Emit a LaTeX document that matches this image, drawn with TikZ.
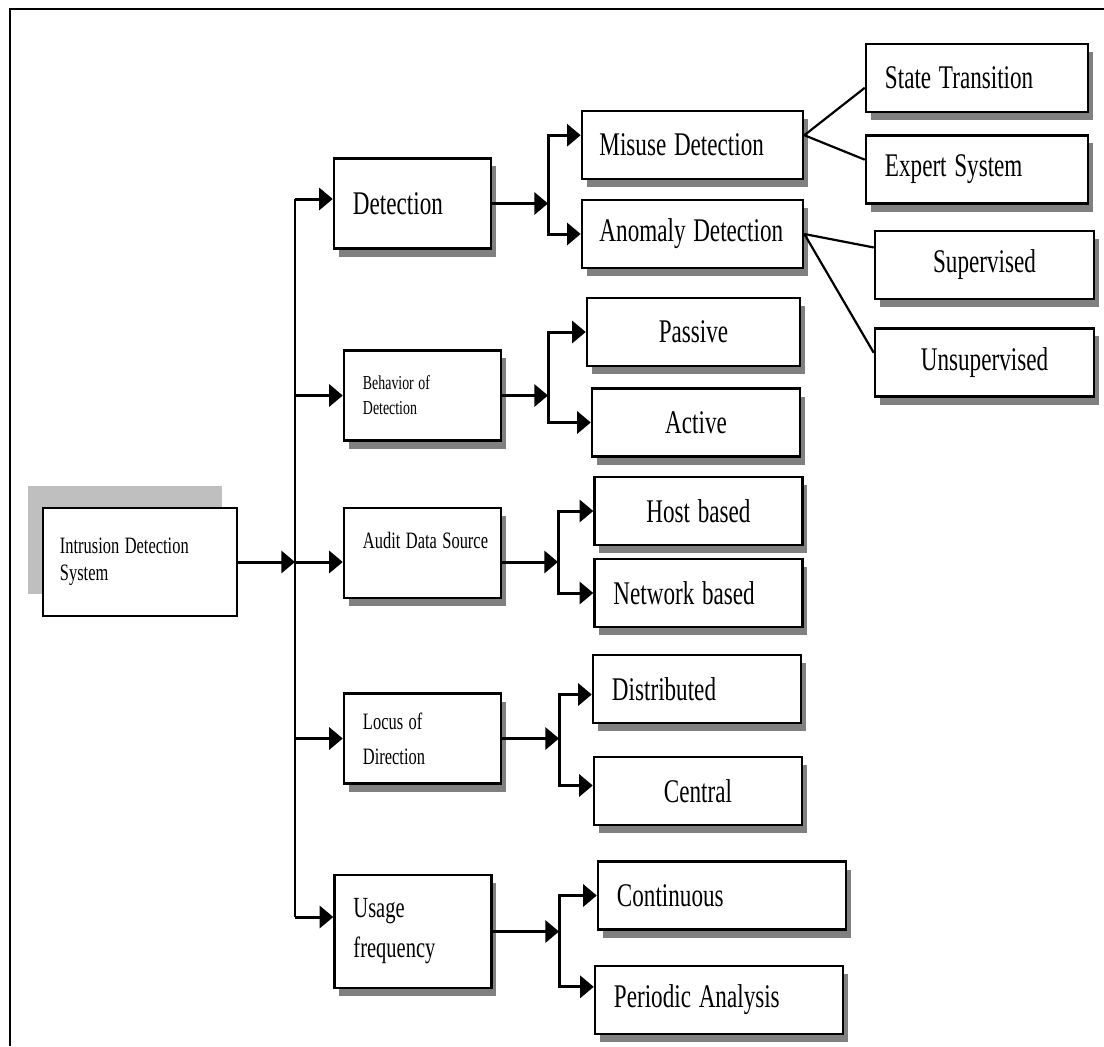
\documentclass[tikz,border=0pt]{standalone}
\usepackage{fontspec}
\setmainfont{Liberation Serif}
\usetikzlibrary{arrows.meta}
\usetikzlibrary{shadows}
% condensed type, as in the scanned figure
\newcommand{\nrw}[1]{\scalebox{0.7}[1]{#1}}

\begin{document}
\begin{tikzpicture}[x=0.025cm, y=-0.025cm]
% Style definitions
\tikzset{
    plain/.style={draw, line width=0.06cm, fill=white, align=left,
                  inner ysep=0pt, inner xsep=0.475cm},
    box/.style={plain, drop shadow={shadow xshift=0.12cm, shadow yshift=-0.2cm,
                                    fill=black!50, opacity=1}},
    root/.style={plain, text width=4.0cm, inner xsep=0.425cm, minimum height=2.7cm,
                 font=\fontsize{16.7}{19.2}\selectfont,
                 drop shadow={shadow xshift=-0.375cm, shadow yshift=0.55cm,
                              fill=black!25, opacity=1}},
    branch/.style={box, text width=2.975cm, minimum height=2.25cm,
                   font=\fontsize{16.7}{19.2}\selectfont},
    leaf/.style={box, text width=4.25cm, minimum height=1.7cm,
                 font=\fontsize{23.5}{28}\selectfont},
    sub/.style={leaf, text width=4.6cm},
    arr/.style={line width=0.075cm, -{Triangle[length=0.34cm, width=0.55cm]}},
    fork/.style={line width=0.075cm,
                 {Triangle[length=0.34cm, width=0.55cm]}-{Triangle[length=0.34cm, width=0.55cm]}},
    link/.style={line width=0.055cm}
}

\useasboundingbox (0,0) rectangle (1104,1046);
\draw[line width=0.07cm] (1104,9) -- (10,9) -- (10,1046);

% Root box
\node[root] (ids) at (140,562) {\nrw{Intrusion Detection}\\\nrw{System}};

% Categories
\node[branch, font=\fontsize{23.5}{28}\selectfont] (det) at (412.5,203.5) {\nrw{Detection}};
\node[branch, font=\fontsize{14.1}{17.8}\selectfont] (beh) at (422.5,395.5) {\nrw{Behavior of}\\\nrw{Detection}};
\node[branch, text depth=0.65cm] (aud) at (422.5,553) {\nrw{Audit Data Source}};
\node[branch] (loc) at (422.5,738.5) {\nrw{Locus of}\\[5.7pt]\nrw{Direction}};
\node[branch, minimum height=2.825cm, font=\fontsize{20.8}{28.4}\selectfont] (use) at (413,931.5) {\nrw{Usage}\\\nrw{frequency}};

% Second level
\node[leaf, text width=4.65cm, inner xsep=0.44cm] (mis) at (692.5,145) {\nrw{Misuse Detection}};
\node[leaf, text width=4.65cm, inner xsep=0.44cm] (ano) at (692.5,234) {\nrw{Anomaly Detection}};
\node[leaf, text width=4.375cm, align=center] (pas) at (693.5,332) {\nrw{Passive}};
\node[leaf, align=center] (act) at (696,422.5) {\nrw{Active}};
\node[leaf, align=center] (hos) at (698.5,511) {\nrw{Host based}};
\node[leaf] (net) at (698.5,593) {\nrw{Network based}};
\node[leaf] (dis) at (697,689) {\nrw{Distributed}};
\node[leaf, align=center] (cen) at (698,791) {\nrw{Central}};
\node[leaf, text width=5.25cm] (con) at (722,895.5) {\nrw{Continuous}};
\node[leaf, text width=5.25cm] (per) at (719,1000) {\nrw{Periodic Analysis}};

% Third level
\node[sub] (st) at (977,78) {\nrw{State Transition}};
\node[sub] (ex) at (977,169.5) {\nrw{Expert System}};
\node[sub, text width=4.525cm, align=center] (sup) at (984.5,265) {\nrw{Supervised}};
\node[sub, text width=4.525cm, align=center] (uns) at (984.5,362.5) {\nrw{Unsupervised}};

% Main trunk
\coordinate (trunk) at (295,199);
\coordinate (trunkend) at (295,917);
\draw[link] (trunk) -- (trunkend);
\draw[arr] (ids) -- (trunk |- ids);
\draw[arr] (trunk |- ids) -- (aud.west |- ids);
\draw[arr] (trunk) -- (det.west |- trunk);
\draw[arr] (trunk |- beh) -- (beh);
\draw[arr] (trunk |- loc) -- (loc);
\draw[arr] (trunkend) -- (use.west |- trunkend);

% Branches
\coordinate (jdet) at (548,203.5);
\draw[arr] (det) -- (jdet);
\draw[fork] (mis.175) -- (jdet |- mis.175) -- (jdet |- ano) -- (ano);

\coordinate (jbeh) at (548,395.5);
\draw[arr] (beh) -- (jbeh);
\draw[fork] (pas) -- (jbeh |- pas) -- (jbeh |- act) -- (act);

\coordinate (jaud) at (558,562);
\draw[arr] (aud.east |- jaud) -- (jaud);
\draw[fork] (hos) -- (jaud |- hos) -- (jaud |- net) -- (net);

\coordinate (jloc) at (559,738.5);
\draw[arr] (loc) -- (jloc);
\draw[fork] (dis.183) -- (jloc |- dis.183) -- (jloc |- cen.177) -- (cen.177);

\coordinate (juse) at (559,931.5);
\draw[arr] (use) -- (juse);
\draw[fork] (con) -- (juse |- con) -- (juse |- per.174) -- (per.174);

% Plain links
\draw[link] (mis.5) -- (st.185);
\draw[link] (mis.5) -- (ex.175);
\draw[link] (ano.east) -- (sup.171);
\draw[link] (ano.east) -- (uns.175);

\end{tikzpicture}
\end{document}
